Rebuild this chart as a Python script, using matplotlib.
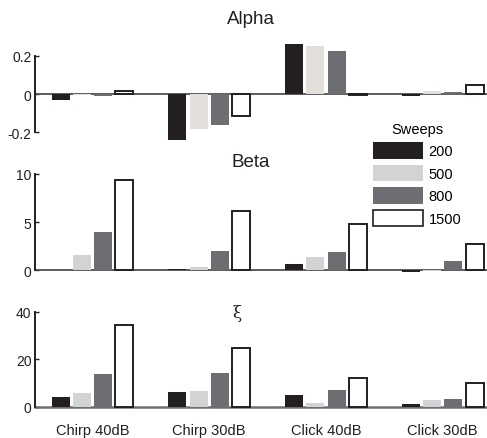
import matplotlib
matplotlib.use("Agg")
import matplotlib.pyplot as plt
import matplotlib.patches as mpatches
import numpy as np

plt.rcParams['font.family'] = ['Liberation Sans', 'DejaVu Sans']
plt.rcParams['axes.unicode_minus'] = False

conditions = ['Chirp 40dB', 'Chirp 30dB', 'Click 40dB', 'Click 30dB']
sweeps = ['200', '500', '800', '1500']

# values, one list per sweep count
alpha_200 = [-0.03, -0.24, 0.26, -0.012]
alpha_500 = [-0.003, -0.18, 0.25, 0.017]
alpha_800 = [-0.01, -0.16, 0.223, 0.01]
alpha_1500 = [0.018, -0.115, -0.003, 0.045]

beta_200 = [0.03, 0.15, 0.67, -0.12]
beta_500 = [1.6, 0.35, 1.4, -0.03]
beta_800 = [4.0, 2.0, 1.9, 1.0]
beta_1500 = [9.4, 6.2, 4.85, 2.75]

xi_200 = [4.0, 6.1, 4.9, 1.1]
xi_500 = [5.7, 6.6, 1.5, 2.75]
xi_800 = [13.8, 14.2, 7.0, 3.2]
xi_1500 = [34.6, 24.9, 12.1, 9.9]

black = '#231f20'
light = '#d2d3d5'
light_warm = '#e2dfda'
gray = '#6d6e71'

W, H = 487, 439
fig = plt.figure(figsize=(W / 100, H / 100), dpi=100)


def add_axes(top_px, bottom_px):
    return fig.add_axes([35 / W, 1 - bottom_px / H, (W - 35) / W, (bottom_px - top_px) / H])


def draw_panel(ax, series, lightcol, ylim, ticks, ticklabels, zero_lw=1.3, zero_col='#505052'):
    x = np.arange(len(conditions))
    pitch = 0.1825
    width = 0.154
    fills = [black, lightcol, gray, 'white']
    for i, vals in enumerate(series):
        off = (i - 1.5) * pitch
        if i == 3:
            ax.bar(x + off, vals, width, color='white', edgecolor=black, linewidth=1.4, zorder=3, clip_on=False)
        else:
            ax.bar(x + off, vals, width, color=fills[i], linewidth=0, zorder=3, clip_on=False)
    ax.axhline(0, color=zero_col, linewidth=zero_lw, zorder=2, clip_on=False)
    ax.set_xlim(-0.493, 3.38)
    ax.set_ylim(*ylim)
    ax.set_yticks(ticks)
    ax.set_yticklabels(ticklabels)
    for s in ['top', 'right', 'bottom']:
        ax.spines[s].set_visible(False)
    ax.spines['left'].set_bounds(ticks[0], ticks[-1])
    ax.spines['left'].set_color(black)
    ax.spines['left'].set_linewidth(1.4)
    ax.tick_params(axis='y', direction='in', length=3, width=1, color=black, pad=2.5,
                   labelsize=10, labelcolor='#231f20')
    ax.tick_params(axis='x', length=0)
    ax.set_xticks(x)
    ax.set_xticklabels([])
    ax.patch.set_alpha(0)


ax1 = add_axes(46.9, 143.1)
draw_panel(ax1, [alpha_200, alpha_500, alpha_800, alpha_1500], light_warm,
           (-0.25, 0.25), [-0.2, 0, 0.2], ['-0.2', '0', '0.2'])

ax2 = add_axes(175, 276.3)
draw_panel(ax2, [beta_200, beta_500, beta_800, beta_1500], light,
           (-0.5, 10), [0, 5, 10], ['0', '5', '10'])

ax3 = add_axes(313, 407.5)
draw_panel(ax3, [xi_200, xi_500, xi_800, xi_1500], light,
           (0, 40), [0, 20, 40], ['0', '20', '40'], zero_lw=1.8, zero_col='#6d6e71')
ax3.set_xticklabels(conditions, fontsize=10.5, color='#231f20')
ax3.tick_params(axis='x', pad=12)

fig.text(251 / W, 1 - 20 / H, 'Alpha', ha='center', va='center', fontsize=13.5, color='#231f20')
fig.text(251 / W, 1 - 163 / H, 'Beta', ha='center', va='center', fontsize=13.5, color='#231f20')
fig.text(237 / W, 1 - 314 / H, '\u03be', ha='center', va='center', fontsize=12,
         family='DejaVu Serif', color='#231f20')

handles = [mpatches.Patch(facecolor=black, edgecolor=black, linewidth=0),
           mpatches.Patch(facecolor=light, edgecolor=light, linewidth=0),
           mpatches.Patch(facecolor=gray, edgecolor=gray, linewidth=0),
           mpatches.Patch(facecolor='white', edgecolor=black, linewidth=1.2)]
fig.legend(handles, sweeps, title='Sweeps', loc='upper left', bbox_to_anchor=(366 / W, 1 - 116 / H),
           frameon=False, borderpad=0, handlelength=3.43, handleheight=1.35, labelspacing=0.42,
           handletextpad=0.35, fontsize=10.5, title_fontsize=10.5)

fig.savefig('out.png', dpi=100)
